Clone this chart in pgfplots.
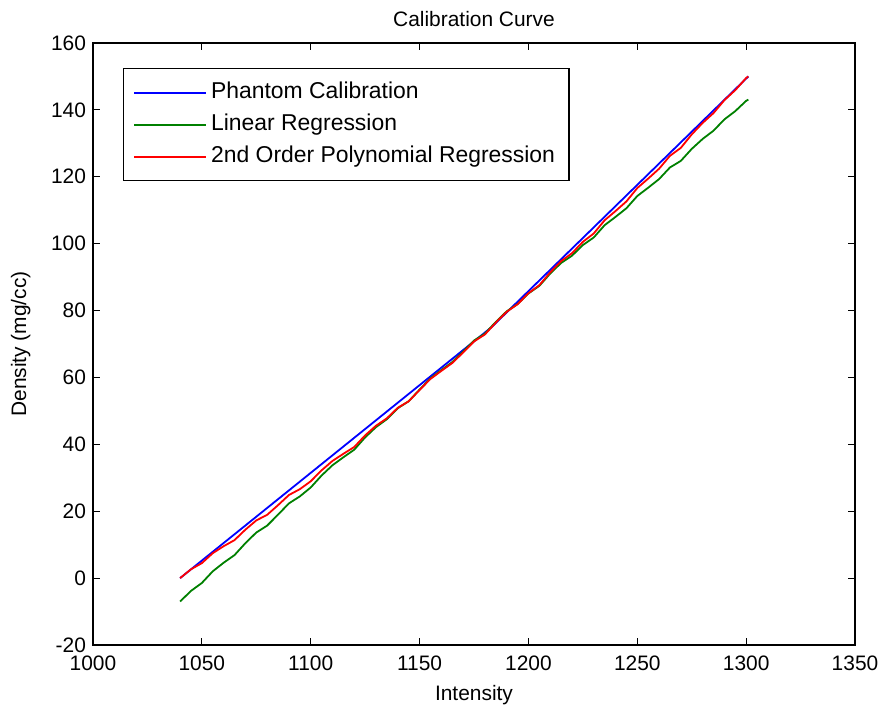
\documentclass[border=0pt]{standalone}
\usepackage{fontspec}
\setmainfont{Liberation Sans}
\usepackage{pgfplots}
\pgfplotsset{compat=1.18}
\definecolor{mblue}{RGB}{0,0,255}
\definecolor{mgreen}{RGB}{0,128,0}
\definecolor{mred}{RGB}{255,0,0}

\pgfplotstableread{
x y
1040 0
1183 75
1301 150
}\phantomtab

\pgfplotstableread{
x y
1040 -7.00
1045 -3.83
1050 -1.45
1055 2.03
1060 4.60
1065 6.88
1070 10.45
1075 13.63
1080 15.70
1085 18.98
1090 22.35
1095 24.43
1100 27.10
1105 30.68
1110 33.75
1115 36.13
1120 38.40
1125 42.08
1130 45.15
1135 47.53
1140 50.80
1145 52.88
1150 56.35
1155 59.73
1160 62.20
1165 64.58
1170 67.75
1175 71.03
1180 73.10
1185 76.58
1190 79.75
1195 81.93
1200 85.10
1205 87.38
1210 91.05
1215 94.23
1220 96.40
1225 99.58
1230 101.85
1235 105.53
1240 108.00
1245 110.58
1250 114.25
1255 116.73
1260 119.30
1265 122.78
1270 124.75
1275 128.33
1280 131.30
1285 133.78
1290 137.15
1295 139.63
1300 142.70
1301 143.08
}\lintab

\pgfplotstableread{
x y
1040 0.00
1045 2.63
1050 4.48
1055 7.45
1060 9.54
1065 11.36
1070 14.49
1075 17.25
1080 18.93
1085 21.82
1090 24.85
1095 26.59
1100 28.95
1105 32.23
1110 35.04
1115 37.17
1120 39.21
1125 42.68
1130 45.57
1135 47.79
1140 50.92
1145 52.87
1150 56.25
1155 59.55
1160 61.96
1165 64.30
1170 67.46
1175 70.75
1180 72.85
1185 76.37
1190 79.62
1195 81.89
1200 85.18
1205 87.59
1210 91.42
1215 94.77
1220 97.14
1225 100.54
1230 103.05
1235 106.99
1240 109.75
1245 112.63
1250 116.63
1255 119.45
1260 122.40
1265 126.26
1270 128.65
1275 132.66
1280 136.09
1285 139.04
1290 142.91
1295 145.90
1300 149.52
1301 150.00
}\polytab

\begin{document}
\begin{tikzpicture}
\path[use as bounding box] (-46.5bp,-34bp) rectangle (397.5bp,322.5bp);
\begin{axis}[
    at={(0,0)}, anchor=south west,
    scale only axis,
    width=381bp, height=301bp,
    xmin=1000, xmax=1350,
    ymin=-20, ymax=160,
    xtick={1000,1050,...,1350},
    ytick={-20,0,...,160},
    tick align=inside,
    major tick length=3.5bp,
    tick style={black, line width=0.5bp},
    axis line style={black, line width=0.9bp},
    /pgf/number format/assume math mode=true,
    /pgf/number format/1000 sep={},
    ticklabel style={font=\fontsize{10.5}{12}\selectfont},
    xticklabel shift={2bp},
    xlabel={Intensity},
    ylabel={Density (mg/cc)},
    label style={font=\fontsize{10.5}{12}\selectfont},
    xlabel style={yshift=-0.5bp},
    ylabel style={yshift=3.5bp},
    title={Calibration Curve},
    title style={font=\fontsize{10.5}{12}\selectfont, yshift=-1.5bp},
    legend style={at={(0.039,0.958)}, anchor=north west, draw=black,
        line width=0.6bp, font=\fontsize{11.5}{13}\selectfont,
        inner xsep=5bp, inner ysep=4bp,
        nodes={text height=8.3bp, text depth=2.2bp, inner ysep=2.75bp}},
    legend cell align=left,
    legend image code/.code={\draw[#1] (0bp,0bp) -- (36bp,0bp);},
]
\addplot[mblue, line width=0.9bp] table[x=x,y=y] {\phantomtab};
\addplot[mgreen, line width=0.9bp] table[x=x,y=y] {\lintab};
\addplot[mred, line width=0.9bp] table[x=x,y=y] {\polytab};
\legend{Phantom Calibration, Linear Regression, 2nd Order Polynomial Regression}
\end{axis}
\end{tikzpicture}
\end{document}
